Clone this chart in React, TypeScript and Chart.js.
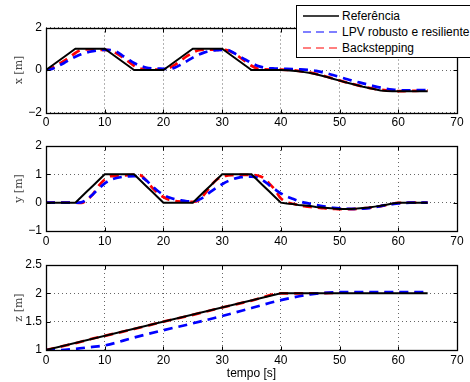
import React, { useEffect, useRef } from "react";
import { Chart, registerables } from "chart.js";
Chart.register(...registerables);

// ---------------- data ----------------
const simTime = [
  0, 1, 2, 3, 4, 5, 6, 7, 8, 9, 10, 11, 12, 13, 14, 15, 16, 17, 18, 19, 20,
  21, 22, 23, 24, 25, 26, 27, 28, 29, 30, 31, 32, 33, 34, 35, 36, 37, 38, 39, 40,
  41, 42, 43, 44, 45, 46, 47, 48, 49, 50, 51, 52, 53, 54, 55, 56, 57, 58, 59, 60,
  61, 62, 63, 64, 65,
];

const refX = [
  0, 0.2, 0.4, 0.6, 0.8, 1, 1, 1, 1, 1, 1,
  0.8, 0.6, 0.4, 0.2, 0, 0, 0, 0, 0, 0,
  0.2, 0.4, 0.6, 0.8, 1, 1, 1, 1, 1, 1,
  0.8, 0.6, 0.4, 0.2, 0, 0, 0, 0, 0, 0,
  -0.01, -0.03, -0.06, -0.1, -0.14, -0.2, -0.27, -0.34, -0.42, -0.5,
  -0.58, -0.65, -0.72, -0.79, -0.85, -0.91, -0.96, -0.99, -1, -1,
  -1, -1, -1, -1, -1,
];
const lpvX = [
  0, 0.05, 0.17, 0.32, 0.48, 0.62, 0.74, 0.83, 0.89, 0.93, 0.95,
  0.94, 0.86, 0.68, 0.5, 0.33, 0.2, 0.12, 0.08, 0.07, 0.06,
  0.05, 0.12, 0.26, 0.42, 0.58, 0.72, 0.83, 0.9, 0.93, 0.95,
  0.94, 0.8, 0.64, 0.48, 0.33, 0.2, 0.12, 0.08, 0.07, 0.06,
  0.05, 0.04, 0.03, 0.02, 0.0, -0.04, -0.1, -0.17, -0.25, -0.33,
  -0.41, -0.49, -0.56, -0.63, -0.7, -0.77, -0.83, -0.88, -0.92, -0.95,
  -0.96, -0.96, -0.95, -0.95, -0.95,
];
const bsX = [
  0, 0.1, 0.25, 0.42, 0.6, 0.8, 0.95, 0.97, 0.96, 0.95, 0.95,
  0.92, 0.78, 0.6, 0.4, 0.2, 0.07, 0.02, 0.01, 0.02, 0.03,
  0.1, 0.25, 0.45, 0.65, 0.82, 0.93, 0.96, 0.96, 0.95, 0.95,
  0.92, 0.78, 0.6, 0.4, 0.2, 0.07, 0.03, 0.02, 0.02, 0.02,
  0.01, -0.01, -0.04, -0.08, -0.12, -0.18, -0.25, -0.33, -0.41, -0.49,
  -0.57, -0.64, -0.71, -0.78, -0.84, -0.89, -0.93, -0.96, -0.98, -0.99,
  -0.99, -0.98, -0.98, -0.97, -0.96,
];

const refY = [
  0, 0, 0, 0, 0, 0, 0.2, 0.4, 0.6, 0.8, 1,
  1, 1, 1, 1, 1, 0.8, 0.6, 0.4, 0.2, 0,
  0, 0, 0, 0, 0, 0.2, 0.4, 0.6, 0.8, 1,
  1, 1, 1, 1, 1, 0.8, 0.6, 0.4, 0.2, 0,
  -0.03, -0.05, -0.08, -0.1, -0.12, -0.15, -0.17, -0.19, -0.21, -0.22,
  -0.22, -0.22, -0.21, -0.19, -0.17, -0.14, -0.11, -0.07, -0.03, 0,
  0, 0, 0, 0, 0,
];
const lpvY = [
  0, 0, 0, 0, 0, 0, 0.01, 0.12, 0.3, 0.5, 0.68,
  0.8, 0.87, 0.91, 0.93, 0.94, 0.92, 0.8, 0.6, 0.42, 0.28,
  0.18, 0.12, 0.08, 0.05, 0.04, 0.1, 0.22, 0.38, 0.52, 0.65,
  0.76, 0.84, 0.89, 0.92, 0.92, 0.88, 0.78, 0.62, 0.47, 0.33,
  0.22, 0.14, 0.06, 0.0, -0.04, -0.08, -0.12, -0.15, -0.18, -0.2,
  -0.21, -0.22, -0.22, -0.21, -0.19, -0.16, -0.12, -0.08, -0.05, -0.03,
  -0.01, 0, 0, 0, 0,
];
const bsY = [
  0, 0, 0, 0, 0, 0, -0.01, 0.1, 0.3, 0.6, 0.82,
  0.93, 0.95, 0.96, 0.97, 0.98, 0.97, 0.8, 0.55, 0.35, 0.2,
  0.1, 0.06, 0.04, 0.03, 0.03, 0.08, 0.3, 0.58, 0.8, 0.92,
  0.96, 0.97, 0.98, 0.98, 0.98, 0.96, 0.88, 0.68, 0.45, 0.15,
  0.02, -0.04, -0.08, -0.12, -0.15, -0.17, -0.19, -0.21, -0.22, -0.23,
  -0.23, -0.23, -0.22, -0.2, -0.18, -0.15, -0.12, -0.08, -0.04, -0.01,
  0, 0, 0, 0, 0,
];

const refZTime = [0, 40, 65];
const refZ = [1, 2, 2];
const zTime = [0, 2.5, 5, 7.5, 10, 15, 20, 25, 30, 35, 40, 45, 50, 55, 60, 65];
const lpvZ = [1, 1.0, 1.02, 1.05, 1.08, 1.22, 1.35, 1.47, 1.6, 1.74, 1.88, 1.98, 2.02, 2.02, 2.02, 2.02];
const bsZ = [1, 1.06, 1.12, 1.19, 1.25, 1.37, 1.5, 1.62, 1.75, 1.87, 2.0, 2.0, 2.01, 2.01, 2.01, 2.01];

const xTicks = [0, 10, 20, 30, 40, 50, 60, 70];
const legendLabels = ["Referência", "LPV robusto e resiliente", "Backstepping"];
const seriesColors = ["#000000", "#0000ff", "#ff0000"];

// ---------------- helpers ----------------
const pts = (t: number[], v: number[]) => t.map((x, i) => ({ x, y: v[i] }));

const SANS = '"Liberation Sans", Arial, Helvetica, sans-serif';
const SERIF = '"DejaVu Serif", "Liberation Serif", serif';

const boxPlugin = {
  id: "matlabBox",
  afterDatasetsDraw(chart: any) {
    const { ctx, chartArea: a, scales } = chart;
    const L = Math.round(a.left) + 0.5;
    const R = Math.round(a.right) + 0.5;
    const T = Math.round(a.top) + 0.5;
    const B = Math.round(a.bottom) + 0.5;
    ctx.save();
    ctx.strokeStyle = "#000";
    ctx.lineWidth = 1;
    ctx.setLineDash([]);
    ctx.beginPath();
    const tl = 4;
    scales.x.ticks.forEach((tk: any) => {
      const px = Math.round(scales.x.getPixelForValue(tk.value)) + 0.5;
      ctx.moveTo(px, B);
      ctx.lineTo(px, B - tl);
      ctx.moveTo(px, T);
      ctx.lineTo(px, T + tl);
    });
    scales.y.ticks.forEach((tk: any) => {
      const py = Math.round(scales.y.getPixelForValue(tk.value)) + 0.5;
      ctx.moveTo(L, py);
      ctx.lineTo(L + tl, py);
      ctx.moveTo(R, py);
      ctx.lineTo(R - tl, py);
    });
    ctx.stroke();
    ctx.lineWidth = 1.3;
    ctx.strokeRect(L, T, R - L, B - T);
    ctx.restore();
  },
};

type Cfg = {
  top: number;
  height: number;
  padTop: number;
  xH: number;
  yMin: number;
  yMax: number;
  yStep: number;
  yTitle: string;
  xTitle?: string;
  series: { t: number[]; v: number[] }[];
};

function buildChart(canvas: HTMLCanvasElement, cfg: Cfg) {
  const datasets = cfg.series.map((s, i) => ({
    label: legendLabels[i],
    data: pts(s.t, s.v),
    borderColor: seriesColors[i],
    backgroundColor: seriesColors[i],
    borderWidth: i === 0 ? 2 : 2.7,
    borderDash: i === 0 ? [] : [9, 6],
    pointRadius: 0,
    fill: false,
    tension: 0,
    cubicInterpolationMode: i === 0 ? "default" : "monotone",
  }));
  return new Chart(canvas, {
    type: "line",
    data: { datasets } as any,
    plugins: [boxPlugin],
    options: {
      animation: false,
      responsive: false,
      maintainAspectRatio: false,
      devicePixelRatio: 1,
      layout: { padding: { top: cfg.padTop, right: 13, left: 0, bottom: 0 } },
      plugins: { legend: { display: false }, tooltip: { enabled: false } },
      scales: {
        x: {
          type: "linear",
          min: 0,
          max: 70,
          afterBuildTicks: (s: any) => {
            s.ticks = xTicks.map((v) => ({ value: v }));
          },
          ticks: {
            color: "#000",
            padding: 3,
            maxRotation: 0,
            autoSkip: false,
            font: { family: SANS, size: 12 },
          },
          grid: { color: "#666", lineWidth: 1, drawTicks: false },
          border: { display: false, dash: [1, 3] },
          title: cfg.xTitle
            ? {
                display: true,
                text: cfg.xTitle,
                color: "#000",
                font: { family: SANS, size: 12 },
                padding: { top: 0, bottom: 1 },
              }
            : { display: false },
          afterFit: (s: any) => {
            s.height = cfg.xH;
          },
        },
        y: {
          type: "linear",
          min: cfg.yMin,
          max: cfg.yMax,
          ticks: {
            stepSize: cfg.yStep,
            color: "#000",
            padding: 4,
            font: { family: SANS, size: 12 },
            callback: (v: any) => {
              const n = Number(v);
              return n < 0 ? "\u2212" + Math.abs(n) : String(n);
            },
          },
          grid: { color: "#666", lineWidth: 1, drawTicks: false },
          border: { display: false, dash: [1, 3] },
          title: {
            display: true,
            text: cfg.yTitle,
            color: "#444",
            font: { family: SERIF, size: 11 },
            padding: { top: 13, bottom: 0 },
          },
          afterFit: (s: any) => {
            s.width = 46;
          },
        },
      },
    } as any,
  });
}

const configs: Cfg[] = [
  {
    top: 0,
    height: 130,
    padTop: 27.5,
    xH: 17.5,
    yMin: -2,
    yMax: 2,
    yStep: 2,
    yTitle: "x [m]",
    series: [
      { t: simTime, v: refX },
      { t: simTime, v: lpvX },
      { t: simTime, v: bsX },
    ],
  },
  {
    top: 130,
    height: 120,
    padTop: 16,
    xH: 19,
    yMin: -1,
    yMax: 2,
    yStep: 1,
    yTitle: "y [m]",
    series: [
      { t: simTime, v: refY },
      { t: simTime, v: lpvY },
      { t: simTime, v: bsY },
    ],
  },
  {
    top: 250,
    height: 132,
    padTop: 15,
    xH: 32,
    yMin: 1,
    yMax: 2.5,
    yStep: 0.5,
    yTitle: "z [m]",
    xTitle: "tempo [s]",
    series: [
      { t: refZTime, v: refZ },
      { t: zTime, v: lpvZ },
      { t: zTime, v: bsZ },
    ],
  },
];

function SubPlot({ cfg }: { cfg: Cfg }) {
  const ref = useRef<HTMLCanvasElement | null>(null);
  useEffect(() => {
    if (!ref.current) return;
    const c = buildChart(ref.current, cfg);
    return () => c.destroy();
  }, [cfg]);
  return (
    <canvas
      ref={ref}
      width={470}
      height={cfg.height}
      style={{ position: "absolute", left: 0, top: cfg.top, width: 470, height: cfg.height }}
    />
  );
}

function LegendBox() {
  const rows = [15.7, 32.2, 48];
  return (
    <div
      style={{
        position: "absolute",
        left: 296,
        top: 5,
        width: 178,
        height: 53,
        border: "1px solid #000",
        background: "#fff",
        boxSizing: "border-box",
        fontFamily: SANS,
        fontSize: 12,
        color: "#000",
        zIndex: 2,
      }}
    >
      {legendLabels.map((lab, i) => (
        <div key={lab}>
          <svg
            width={36}
            height={4}
            style={{ position: "absolute", left: 6, top: rows[i] - 6 - 2 }}
          >
            <line
              x1={0}
              y1={2}
              x2={36}
              y2={2}
              stroke={seriesColors[i]}
              strokeWidth={i === 0 ? 1.5 : 1.2}
              strokeDasharray={i === 0 ? undefined : "8 5"}
            />
          </svg>
          <span
            style={{
              position: "absolute",
              left: 45,
              top: rows[i] - 6 - 7,
              lineHeight: "14px",
              whiteSpace: "nowrap",
            }}
          >
            {lab}
          </span>
        </div>
      ))}
    </div>
  );
}

export default function App() {
  return (
    <div
      style={{
        position: "absolute",
        left: 0,
        top: 0,
        width: 470,
        height: 382,
        background: "#fff",
        overflow: "hidden",
      }}
    >
      {configs.map((c, i) => (
        <SubPlot key={i} cfg={c} />
      ))}
      <LegendBox />
    </div>
  );
}
